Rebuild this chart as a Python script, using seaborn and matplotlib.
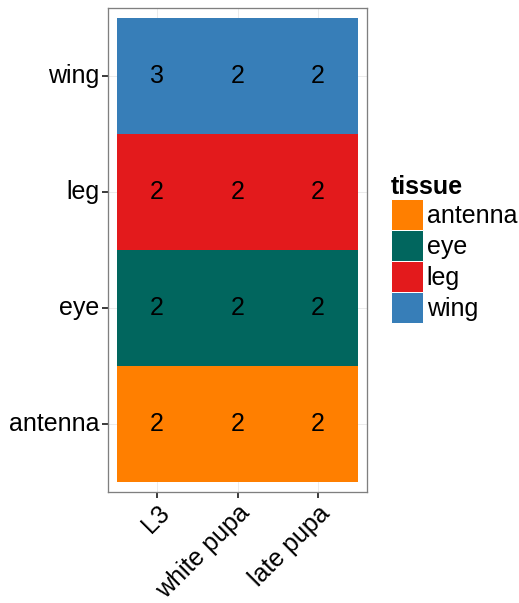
import numpy as np
import pandas as pd
import matplotlib
matplotlib.use('Agg')
import matplotlib.pyplot as plt
from matplotlib.colors import ListedColormap
from matplotlib.patches import Patch
import seaborn as sns

# data
stages = ['L3', 'white pupa', 'late pupa']
tissues = ['antenna', 'eye', 'leg', 'wing']
colors = ['#FF7F00', '#01665E', '#E31A1C', '#377EB8']
counts_antenna = [2, 2, 2]
counts_eye = [2, 2, 2]
counts_leg = [2, 2, 2]
counts_wing = [3, 2, 2]

sns.set_theme(style='white')
plt.rcParams['font.family'] = ['Liberation Sans', 'DejaVu Sans']
plt.rcParams['text.color'] = 'black'

# rows top -> bottom: wing, leg, eye, antenna
row_order = tissues[::-1]
counts = pd.DataFrame([counts_wing, counts_leg, counts_eye, counts_antenna],
                      index=row_order, columns=stages)
codes = pd.DataFrame([[tissues.index(t)] * len(stages) for t in row_order],
                     index=row_order, columns=stages)

fig = plt.figure(figsize=(519 / 72, 603 / 72), dpi=72)
ax = fig.add_axes([108 / 519, 1 - 492 / 603, 259 / 519, 484 / 603])

sns.heatmap(codes, cmap=ListedColormap(colors), vmin=-0.5, vmax=3.5,
            annot=counts, fmt='d', cbar=False, ax=ax,
            annot_kws={'fontsize': 25, 'color': 'black'})

ax.set_xlim(-0.11, 3.11)
ax.set_ylim(4.086, -0.086)
ax.set_xlabel('')
ax.set_ylabel('')

ax.set_axisbelow(True)
ax.grid(True, color='#EBEBEB', linewidth=1)
for s in ax.spines.values():
    s.set_visible(True)
    s.set_color('#7F7F7F')
    s.set_linewidth(1.3)

ax.tick_params(axis='both', which='major', length=6, width=1.5, color='black',
               labelsize=25, labelcolor='black', bottom=True, left=True, pad=3)
plt.setp(ax.get_yticklabels(), rotation=0)
plt.setp(ax.get_xticklabels(), rotation=45, ha='right', rotation_mode='anchor')

handles = [Patch(facecolor=c, edgecolor='white', linewidth=1) for c in colors]
leg = fig.legend(handles, tissues, title='tissue', loc='upper left',
                 bbox_to_anchor=(391 / 519, 1 - 175 / 603), frameon=False,
                 fontsize=25, handlelength=1.28, handleheight=1.53,
                 labelspacing=0.0, handletextpad=0.15, borderpad=0,
                 borderaxespad=0, alignment='left',
                 title_fontproperties={'weight': 'bold', 'size': 25})
for t in leg.get_texts():
    t.set_color('black')
leg.get_title().set_color('black')

fig.savefig('out.png', dpi=72)
